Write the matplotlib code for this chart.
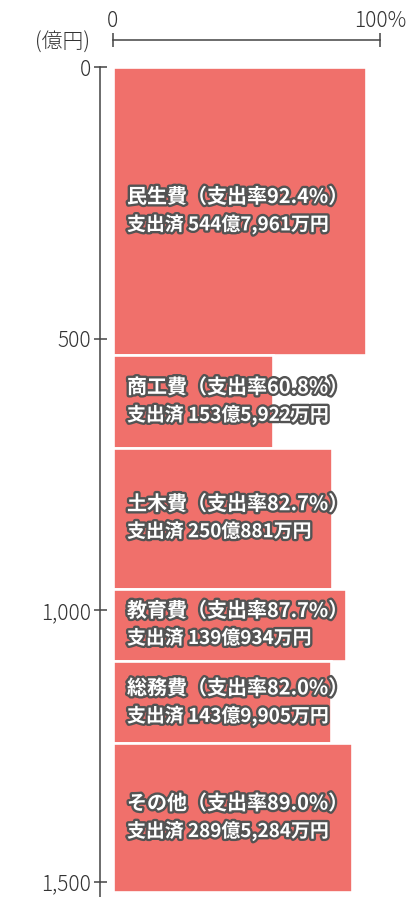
import matplotlib
matplotlib.use("Agg")
import matplotlib.pyplot as plt
import matplotlib.patheffects as pe
from matplotlib.ticker import FuncFormatter
import numpy as np

plt.rcParams['font.family'] = ['Noto Sans CJK JP', 'DejaVu Sans']

# ---- data ----
categories = ['民生費', '商工費', '土木費', '教育費', '総務費', 'その他']
rate_labels = ['92.4%', '60.8%', '82.7%', '87.7%', '82.0%', '89.0%']
spend_labels = ['544億7,961万円', '153億5,922万円', '250億881万円',
                '139億934万円', '143億9,905万円', '289億5,284万円']
bar_heights = [530, 171, 259, 134, 151, 273]      # 億円 (as drawn)
bar_widths = [94.7, 59.8, 81.9, 87.1, 81.5, 89.5]  # % (as drawn)
y_ticks = [0, 500, 1000, 1500]
x_ticks = [0, 100]
x_tick_labels = ['0', '100%']

BAR = '#f0706b'
AX = '#444444'
TXT = '#333333'

W, H = 416, 897
fig = plt.figure(figsize=(W / 100, H / 100), dpi=100)
px = 0.54333  # pixels per 億円
top_px = 67
ymax = (H - top_px) / px
ax = fig.add_axes([113 / W, 0, 267.3 / W, (H - top_px) / H])

bottoms = np.concatenate([[0], np.cumsum(bar_heights)[:-1]])
ax.barh(bottoms, bar_widths, height=bar_heights, left=0, align='edge',
        color=BAR, edgecolor='white', linewidth=1.9)

ax.set_xlim(0, 100)
ax.set_ylim(ymax, 0)

for s in ['right', 'bottom']:
    ax.spines[s].set_visible(False)
ax.spines['left'].set_position(('outward', 13 * 0.72))
ax.spines['left'].set_color(AX)
ax.spines['left'].set_linewidth(1.1)
ax.spines['left'].set_bounds(ymax, 0)
ax.spines['top'].set_position(('outward', 27 * 0.72))
ax.spines['top'].set_color(AX)
ax.spines['top'].set_linewidth(1.1)
ax.spines['top'].set_bounds(0, 100)

ax.set_yticks(y_ticks)
ax.yaxis.set_major_formatter(FuncFormatter(lambda v, p: f'{int(v):,}'))
ax.tick_params(axis='y', direction='inout', length=13 * 0.72, width=1.1,
               color=AX, labelsize=15, labelcolor=TXT, pad=2)
ax.xaxis.set_ticks_position('top')
ax.set_xticks(x_ticks)
ax.set_xticklabels(x_tick_labels)
ax.tick_params(axis='x', direction='inout', length=14 * 0.72, width=1.1,
               color=AX, labelsize=15, labelcolor=TXT, pad=1)
for t in ax.get_xticklabels() + ax.get_yticklabels():
    t.set_fontweight('light')

fig.text(63 / W, 1 - 43 / H, '(億円)', ha='center', va='center',
         fontsize=15, color=TXT, fontweight='light')

stroke = [pe.withStroke(linewidth=3.4, foreground='#535353')]
for cat, rl, sl, b, h in zip(categories, rate_labels, spend_labels, bottoms, bar_heights):
    mid = b + h / 2
    ax.annotate(f'{cat}（支出率{rl}）', xy=(0, mid), xytext=(14 * 0.72, 14.5 * 0.72),
                textcoords='offset points', ha='left', va='center',
                fontsize=14.4, fontweight='bold', color='white', path_effects=stroke)
    ax.annotate(f'支出済 {sl}', xy=(0, mid), xytext=(14 * 0.72, -13.5 * 0.72),
                textcoords='offset points', ha='left', va='center',
                fontsize=13.6, fontweight='bold', color='white', path_effects=stroke)

fig.savefig('out.png', dpi=100)
